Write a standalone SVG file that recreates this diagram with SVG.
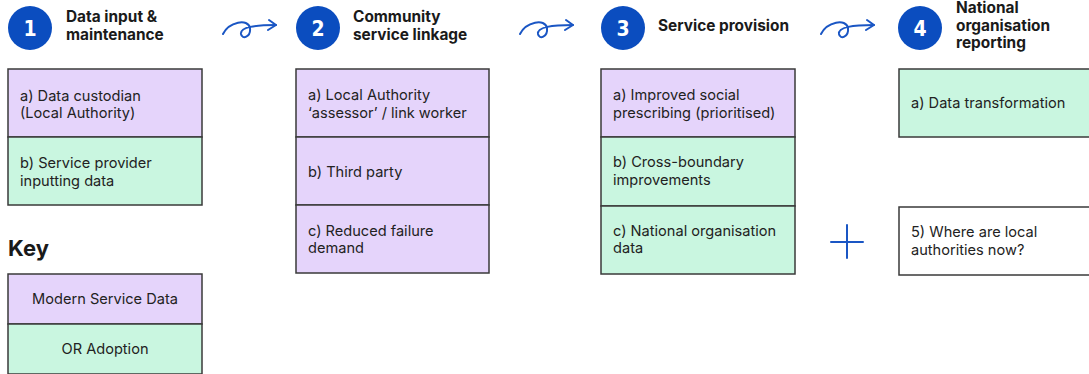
<svg xmlns="http://www.w3.org/2000/svg" width="1089" height="374" viewBox="0 0 1089 374">
<style>
.bg{fill:#ffffff}
.p{fill:#e5d4fb;stroke:#3a3a3a;stroke-width:1.5}
.g{fill:#c9f6e0;stroke:#3a3a3a;stroke-width:1.5}
.w{fill:#ffffff;stroke:#3a3a3a;stroke-width:1.5}
.t{font-family:Inter,"Noto Sans",sans-serif;font-size:14.6px;fill:#222222}
.h{font-family:Inter,"Noto Sans",sans-serif;font-size:15.4px;font-weight:700;fill:#1a1a1a}
.k{font-family:Inter,"Noto Sans",sans-serif;font-size:22px;font-weight:700;fill:#1a1a1a}
.c{fill:#0b4dbf}
.n{font-family:"DejaVu Sans Condensed","DejaVu Sans",sans-serif;font-size:21px;font-weight:700;fill:#ffffff;text-anchor:middle}
.a{fill:none;stroke:#1a56c4;stroke-width:2;stroke-linecap:round;stroke-linejoin:round}
.m{text-anchor:middle}
</style>
<rect class="bg" x="0" y="0" width="1089" height="374"/>

<g id="connectors">
  <g transform="translate(0,0)">
    <path class="a" d="M223,34 C229,22 248,18 250,28 C251,37 242,40 241,34 C240,27 255,25 276,25"/>
    <path class="a" d="M269,20 L276,25 L268,30"/>
  </g>
  <g transform="translate(297,0)">
    <path class="a" d="M223,34 C229,22 248,18 250,28 C251,37 242,40 241,34 C240,27 255,25 276,25"/>
    <path class="a" d="M269,20 L276,25 L268,30"/>
  </g>
  <g transform="translate(598,0)">
    <path class="a" d="M223,34 C229,22 248,18 250,28 C251,37 242,40 241,34 C240,27 255,25 276,25"/>
    <path class="a" d="M269,20 L276,25 L268,30"/>
  </g>
  <path class="a" d="M831,242 L863,242 M847,225 L847,258"/>
</g>

<g id="step1">
  <circle class="c" cx="30" cy="28" r="22"/>
  <text class="n" x="30" y="36">1</text>
  <text class="h" x="66" y="22">Data input &amp;</text>
  <text class="h" x="66" y="40">maintenance</text>
</g>
<g id="step2">
  <circle class="c" cx="318" cy="28" r="22"/>
  <text class="n" x="318" y="36">2</text>
  <text class="h" x="353" y="22">Community</text>
  <text class="h" x="353" y="40">service linkage</text>
</g>
<g id="step3">
  <circle class="c" cx="623" cy="28" r="22"/>
  <text class="n" x="623" y="36">3</text>
  <text class="h" x="658" y="31">Service provision</text>
</g>
<g id="step4">
  <circle class="c" cx="920" cy="28" r="22"/>
  <text class="n" x="920" y="36">4</text>
  <text class="h" x="956" y="13">National</text>
  <text class="h" x="956" y="31">organisation</text>
  <text class="h" x="956" y="48">reporting</text>
</g>

<g id="box1a">
  <rect class="p" x="8" y="69" width="194" height="68"/>
  <text class="t" x="20" y="101">a) Data custodian</text>
  <text class="t" x="20" y="118">(Local Authority)</text>
</g>
<g id="box1b">
  <rect class="g" x="8" y="137" width="194" height="68"/>
  <text class="t" x="20" y="168">b) Service provider</text>
  <text class="t" x="20" y="186">inputting data</text>
</g>

<g id="key">
  <text class="k" x="8" y="256">Key</text>
  <rect class="p" x="8" y="274" width="194" height="50"/>
  <text class="t m" x="105" y="304">Modern Service Data</text>
  <rect class="g" x="8" y="324" width="194" height="50"/>
  <text class="t m" x="105" y="354">OR Adoption</text>
</g>

<g id="box2a">
  <rect class="p" x="296" y="69" width="193" height="68"/>
  <text class="t" x="308" y="100">a) Local Authority</text>
  <text class="t" x="308" y="118">‘assessor’ / link worker</text>
</g>
<g id="box2b">
  <rect class="p" x="296" y="137" width="193" height="68"/>
  <text class="t" x="308" y="177">b) Third party</text>
</g>
<g id="box2c">
  <rect class="p" x="296" y="205" width="193" height="68"/>
  <text class="t" x="308" y="236">c) Reduced failure</text>
  <text class="t" x="308" y="253">demand</text>
</g>

<g id="box3a">
  <rect class="p" x="601" y="69" width="194" height="68"/>
  <text class="t" x="613" y="100">a) Improved social</text>
  <text class="t" x="613" y="118">prescribing (prioritised)</text>
</g>
<g id="box3b">
  <rect class="g" x="601" y="137" width="194" height="69"/>
  <text class="t" x="613" y="167">b) Cross-boundary</text>
  <text class="t" x="613" y="185">improvements</text>
</g>
<g id="box3c">
  <rect class="g" x="601" y="206" width="194" height="68"/>
  <text class="t" x="613" y="236">c) National organisation</text>
  <text class="t" x="613" y="253">data</text>
</g>

<g id="box4a">
  <rect class="g" x="899" y="69" width="200" height="68"/>
  <text class="t" x="911" y="108">a) Data transformation</text>
</g>
<g id="box5">
  <rect class="w" x="899" y="207" width="200" height="68"/>
  <text class="t" x="911" y="237">5) Where are local</text>
  <text class="t" x="911" y="255">authorities now?</text>
</g>
</svg>
